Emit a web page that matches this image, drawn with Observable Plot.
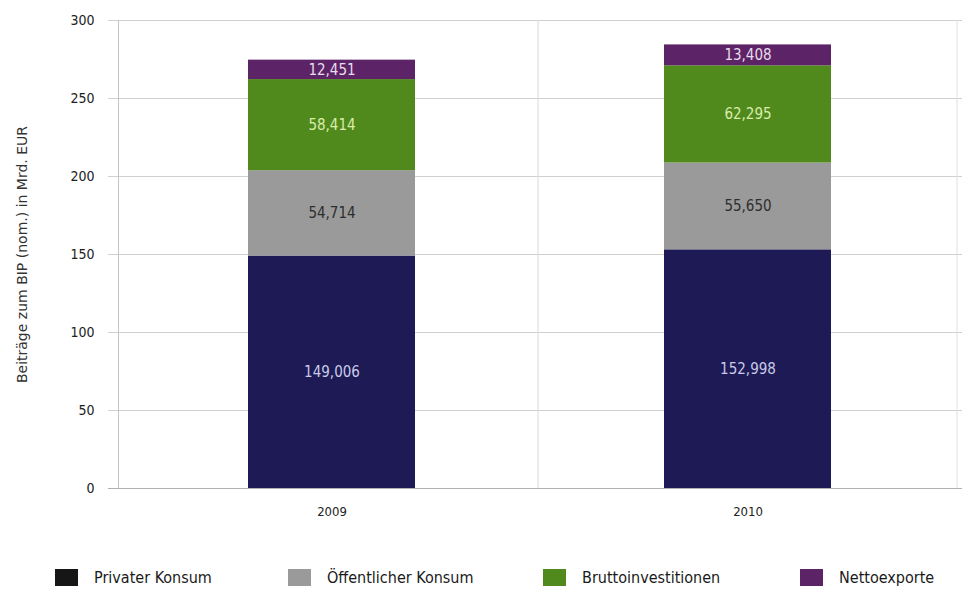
<!DOCTYPE html>
<html><head><meta charset="utf-8">
<script src="https://cdn.jsdelivr.net/npm/d3@7"></script>
<script src="https://cdn.jsdelivr.net/npm/@observablehq/plot@0.6"></script>
<style>
body{margin:0;background:#fff;font-family:"DejaVu Sans Condensed","DejaVu Sans",sans-serif;}
#legend{position:relative;height:40px;margin-top:40px;font-size:16px;color:#1a1a1a;}
.item{position:absolute;top:8px;display:flex;align-items:center;}
.sw{width:23px;height:17px;margin-right:16px;}
</style></head>
<body>
<div id="chart"></div>
<div id="legend"></div>
<script>
const years = ["2009", "2010"];
const components = ["Privater Konsum", "Öffentlicher Konsum", "Bruttoinvestitionen", "Nettoexporte"];
const values2009 = [149.006, 54.714, 58.414, 12.451];
const values2010 = [152.998, 55.650, 62.295, 13.408];
const barColors = ["#1d1a56", "#9a9a9a", "#508a1c", "#5c2466"];
const legendColors = ["#161616", "#9a9a9a", "#508a1c", "#5c2466"];
const labelColors = ["#c9cbe6", "#2e2e2e", "#d9ecaa", "#e8dcec"];
const yTicks = [0, 50, 100, 150, 200, 250, 300];
const yLabel = "Beiträge zum BIP (nom.) in Mrd. EUR";

const data = [];
years.forEach((yr, i) => {
  const vals = i === 0 ? values2009 : values2010;
  components.forEach((c, j) => data.push({year: yr, comp: c, value: vals[j], idx: j}));
});
const fmt = v => v.toFixed(3).replace(".", ",");

const chart = Plot.plot({
  width: 970, height: 520,
  marginLeft: 118, marginRight: 8, marginTop: 20, marginBottom: 32,
  style: {fontFamily: "'DejaVu Sans Condensed','DejaVu Sans',sans-serif", fontSize: "13px", color: "#222", background: "#fff"},
  x: {domain: years, paddingInner: 0.598, paddingOuter: 0.313, label: null},
  y: {domain: [0, 300]},
  color: {domain: components, range: barColors},
  marks: [
    Plot.gridY(yTicks, {stroke: "#d0d0d0", strokeOpacity: 1, insetLeft: -10}),
    Plot.ruleX(["2009"], {dx: 206, stroke: "#d8d8d8"}),
    Plot.ruleX(["2010"], {dx: 209, stroke: "#e0e0e0"}),
    Plot.frame({anchor: "left", stroke: "#c4c4c4"}),
    Plot.ruleY([0], {stroke: "#b0b0b0", insetLeft: -10}),
    Plot.barY(data, {x: "year", y: "value", fill: "comp", order: components}),
    Plot.text(data, Plot.stackY({x: "year", y: "value", order: components,
      text: d => fmt(d.value), fill: d => labelColors[d.idx], fontSize: 15})),
    Plot.axisY({ticks: yTicks, tickSize: 0, tickPadding: 24, fontSize: 14, fill: "#222", label: null}),
    Plot.text([yLabel], {frameAnchor: "left", textAnchor: "middle", rotate: -90, dx: -96,
      fontSize: 14, fontFamily: "'DejaVu Sans',sans-serif", fill: "#333"}),
    Plot.axisX({tickSize: 0, tickPadding: 18, fontSize: 13, fill: "#222", label: null})
  ]
});
document.getElementById("chart").appendChild(chart);

const legend = document.getElementById("legend");
const positions = [55, 288, 543, 800];
components.forEach((c, i) => {
  const el = document.createElement("div");
  el.className = "item";
  el.style.left = positions[i] + "px";
  el.innerHTML = `<div class="sw" style="background:${legendColors[i]}"></div><span>${c}</span>`;
  legend.appendChild(el);
});
</script>
</body></html>
